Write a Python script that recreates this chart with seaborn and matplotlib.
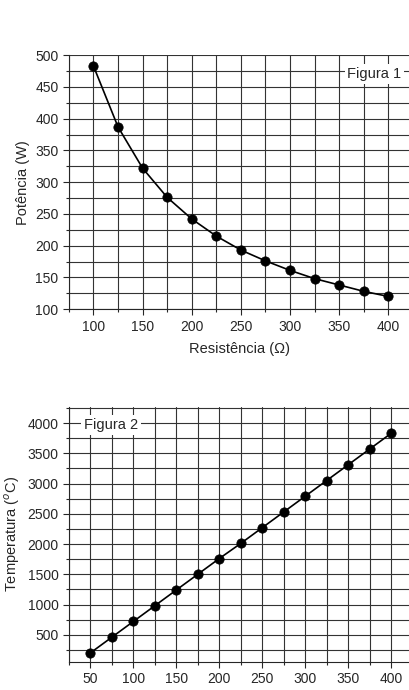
import matplotlib
matplotlib.use("Agg")
import matplotlib.pyplot as plt
import seaborn as sns
import numpy as np
from matplotlib.ticker import MultipleLocator

sns.set_style("ticks")
plt.rcParams['font.family'] = ['Liberation Sans', 'DejaVu Sans']

# Figura 1: power vs resistance
resistencia = [100, 125, 150, 175, 200, 225, 250, 275, 300, 325, 350, 375, 400]
potencia = [483, 387, 322, 276, 242, 215, 193, 176, 161, 148, 138, 128, 120]

# Figura 2: temperature
x2 = [50, 75, 100, 125, 150, 175, 200, 225, 250, 275, 300, 325, 350, 375, 400]
temperatura = [200, 460, 720, 980, 1240, 1500, 1760, 2010, 2270, 2530, 2790, 3050, 3310, 3570, 3830]

fig = plt.figure(figsize=(4.1, 6.9), dpi=100)
ax1 = fig.add_axes([0.168, 0.552, 0.832, 0.368])
ax2 = fig.add_axes([0.168, 0.041, 0.832, 0.369])

def style(ax):
    ax.grid(True, which='both', color='#333333', linewidth=0.8)
    ax.set_axisbelow(True)
    for s in ['top', 'right']:
        ax.spines[s].set_visible(False)
    ax.tick_params(which='both', direction='out', labelsize=10, length=4, width=0.8)
    ax.tick_params(which='minor', length=2.5)

sns.lineplot(x=resistencia, y=potencia, ax=ax1, color='black', linewidth=1.2)
sns.scatterplot(x=resistencia, y=potencia, ax=ax1, color='black', s=45, zorder=3, edgecolor='black')
ax1.set_xlim(75, 422)
ax1.set_ylim(100, 500)
ax1.xaxis.set_major_locator(MultipleLocator(50))
ax1.xaxis.set_minor_locator(MultipleLocator(25))
ax1.yaxis.set_major_locator(MultipleLocator(50))
ax1.yaxis.set_minor_locator(MultipleLocator(25))
style(ax1)
ax1.set_xlabel('Resistência (Ω)', fontsize=10.5, labelpad=6)
ax1.set_ylabel('Potência (W)', fontsize=10.5)
ax1.text(0.975, 0.925, 'Figura 1', transform=ax1.transAxes, ha='right', va='center',
         fontsize=10.5, bbox=dict(facecolor='white', edgecolor='none', pad=2))

sns.lineplot(x=x2, y=temperatura, ax=ax2, color='black', linewidth=1.2)
sns.scatterplot(x=x2, y=temperatura, ax=ax2, color='black', s=45, zorder=3, edgecolor='black')
ax2.set_xlim(25, 422)
ax2.set_ylim(55, 4264)
ax2.xaxis.set_major_locator(MultipleLocator(50))
ax2.xaxis.set_minor_locator(MultipleLocator(25))
ax2.set_yticks([500, 1000, 1500, 2000, 2500, 3000, 3500, 4000])
ax2.yaxis.set_minor_locator(MultipleLocator(250))
style(ax2)
ax2.set_ylabel('Temperatura ($^{o}$C)', fontsize=10.5)
ax2.text(0.045, 0.93, 'Figura 2', transform=ax2.transAxes, ha='left', va='center',
         fontsize=10.5, bbox=dict(facecolor='white', edgecolor='none', pad=2))

fig.savefig('out.png', dpi=100)
